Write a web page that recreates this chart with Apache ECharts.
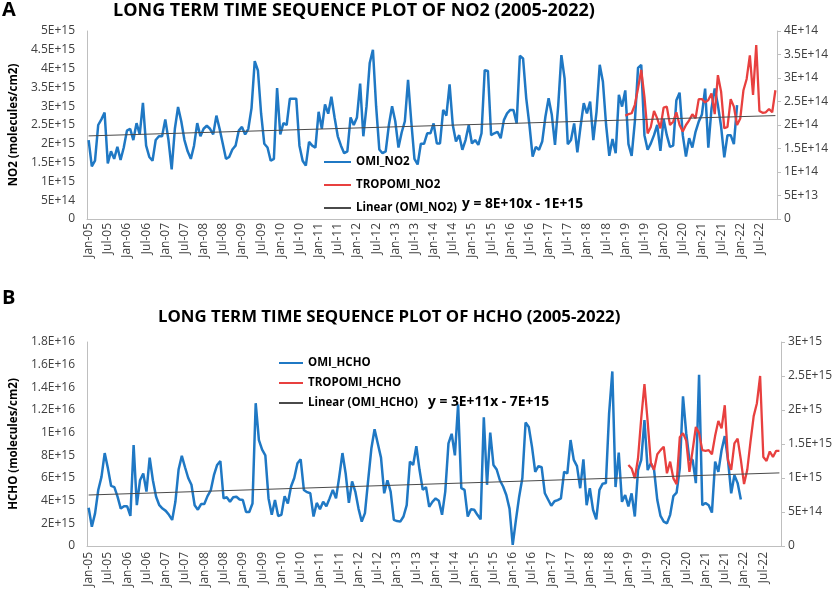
<!DOCTYPE html>
<html><head><meta charset="utf-8">
<script src="https://cdn.jsdelivr.net/npm/echarts/dist/echarts.min.js"></script>
<style>html,body{margin:0;padding:0;background:#fff}#c{width:837px;height:591px}</style>
</head><body><div id="c"></div><script>
// Categories: monthly, Jan-05 .. Dec-22
var monthNames = ['Jan','Feb','Mar','Apr','May','Jun','Jul','Aug','Sep','Oct','Nov','Dec'];
var years = ['05','06','07','08','09','10','11','12','13','14','15','16','17','18','19','20','21','22'];
var categories = [];
years.forEach(function(y){ monthNames.forEach(function(m){ categories.push(m + '-' + y); }); });

// Panel A: OMI NO2 (units of 1E+15 molecules/cm2), Jan-05 .. Dec-21
var omiNO2 = [
2.1,1.4,1.55,2.5,2.65,2.83,1.48,1.8,1.6,1.92,1.57,1.9,
2.35,2.4,2.1,2.55,2.25,3.09,1.95,1.65,1.55,2.1,2.2,2.2,
2.65,2.1,1.32,2.4,2.98,2.6,2.1,1.8,1.6,1.95,2.55,2.2,
2.4,2.48,2.4,2.25,2.75,2.4,2.0,1.6,1.65,1.85,1.95,2.35,
2.45,2.25,2.4,2.95,4.2,3.95,2.8,2.0,1.9,1.55,1.6,3.48,
2.25,2.55,2.5,3.2,3.2,3.2,1.95,1.55,1.42,2.05,1.95,1.9,
2.85,2.4,3.05,2.8,3.25,2.7,2.2,1.95,1.75,1.8,2.7,2.5,
2.7,3.6,2.2,3.0,4.15,4.5,3.0,1.85,1.75,1.8,2.5,3.0,
2.6,1.9,2.3,2.6,3.7,2.6,1.6,1.45,2.0,2.0,2.28,2.28,
2.54,2.01,2.01,2.9,2.75,3.58,2.5,2.06,2.23,1.84,2.1,2.5,
2.01,2.1,1.97,2.28,3.96,3.94,2.23,2.28,2.32,2.15,2.63,2.81,
2.9,2.9,2.54,4.34,4.27,3.21,2.5,1.66,1.92,1.84,2.06,2.72,
3.21,2.77,1.97,3.0,4.36,3.74,1.99,2.1,2.54,1.77,2.46,3.08,
2.81,3.12,2.1,2.85,4.1,3.65,2.5,1.68,2.13,1.75,3.3,2.99,
3.42,1.99,1.68,2.59,4.02,4.1,2.23,1.84,2.01,2.23,2.5,1.81,
2.66,2.23,1.92,1.95,3.16,3.36,2.23,1.66,2.15,1.9,2.32,2.59,
2.78,3.47,1.9,2.94,3.47,3.03,2.46,1.64,2.23,2.23,1.99,3.03
];
// TROPOMI NO2 (units of 1E+14), Jan-19 .. Dec-22
var tropomiNO2 = [
2.2,2.23,2.25,2.43,2.78,3.17,2.6,1.82,1.96,2.3,2.14,1.93,
2.37,2.39,2.0,2.07,2.27,2.0,1.86,2.0,2.1,2.23,2.14,2.55,
2.55,2.48,2.53,2.67,2.23,3.06,2.71,1.93,1.96,2.55,2.39,2.0,
2.14,2.74,2.98,3.48,2.64,3.7,2.3,2.26,2.27,2.34,2.27,2.74
];
var tropomiStart = 'Jan-19';
// Linear trend of OMI NO2 (1E+15), value at first and last category
var trendNO2 = [2.21, 2.75];

// Panel B: OMI HCHO (units of 1E+15), Jan-05 .. Dec-21
var omiHCHO = [
3.38,1.7,2.88,4.94,6.1,8.2,6.85,5.3,5.2,4.35,3.3,3.5,
3.5,2.65,8.9,3.6,5.8,6.4,4.8,7.8,5.8,4.35,3.6,3.3,
3.1,2.75,2.3,3.9,6.75,7.95,6.95,6.0,5.4,3.6,3.2,3.7,
3.7,4.4,4.9,6.25,7.15,7.5,4.2,4.3,3.9,4.3,4.35,4.1,
4.05,3.0,3.0,3.75,12.6,9.35,8.5,8.0,4.2,2.75,4.05,2.65,
2.75,4.4,3.75,5.25,6.0,7.3,7.65,4.94,4.75,4.65,2.6,3.8,
3.25,3.9,3.5,4.2,4.95,4.2,6.1,8.2,6.4,3.8,5.7,4.8,
3.3,2.15,2.9,5.8,8.6,10.3,9.05,7.8,4.65,5.8,4.8,2.3,
2.2,2.15,2.6,3.6,7.45,7.15,8.8,6.7,4.95,5.2,3.45,3.9,
4.2,4.0,2.75,4.8,9.05,9.9,8.0,12.5,5.1,4.95,2.6,3.25,
3.2,2.75,2.35,11.35,5.4,10.0,7.15,6.75,5.8,5.25,4.5,3.3,
0.1,2.3,4.35,6.0,10.9,10.5,8.75,6.55,7.05,6.95,4.65,4.1,
3.55,3.95,4.05,4.2,6.55,6.4,9.35,7.6,7.05,5.1,7.65,3.6,
5.1,3.2,2.35,4.95,5.5,5.55,11.7,15.4,5.2,8.25,3.9,4.5,
3.5,4.65,2.6,6.7,7.6,11.1,6.7,7.3,6.7,4.05,2.65,2.15,
2.0,2.75,4.4,4.7,6.85,13.2,9.95,7.6,7.6,5.55,15.1,3.6,
3.8,3.6,2.95,7.45,6.55,8.45,9.7,7.6,4.65,6.25,5.55,4.1
];
// TROPOMI HCHO (units of 1E+14), Jan-19 .. Dec-22
var tropomiHCHO = [
11.9,11.4,9.95,12.9,18.8,23.8,18.3,12.2,11.2,13.5,14.1,14.6,
10.7,12.4,9.95,9.1,16.0,16.6,15.5,10.9,14.1,17.5,16.6,14.1,
14.0,14.1,13.5,16.2,18.4,17.3,20.7,12.6,11.2,15.1,15.8,12.7,
9.1,11.2,15.3,19.1,21.0,25.0,13.1,12.5,13.9,13.1,14.0,14.0
];
var trendHCHO = [4.5, 6.45];

// Axis tick settings (value units as stored above)
var leftNO2Axis = {min:0, max:5, interval:0.5, unit:1e15};
var rightNO2Axis = {min:0, max:4, interval:0.5, unit:1e14};
var leftHCHOAxis = {min:0, max:18, interval:2, unit:1e15};
var rightHCHOAxis = {min:0, max:30, interval:5, unit:1e14};

function sci(v){
  if (Math.abs(v) < 1e-6) return '0';
  var e = Math.floor(Math.log10(v) + 1e-9);
  var m = Math.round(v / Math.pow(10, e) * 100) / 100;
  return m + 'E+' + e;
}
function pairsFrom(start, arr){
  var s = categories.indexOf(start);
  return arr.map(function(v, i){ return [categories[s + i], v]; });
}

var BLUE = '#1f78c4', RED = '#e8403f', TREND = '#4a4a4a';
var FONT = 'Open Sans';
var labelColor = '#404040';

function xAxis(gi, margin){
  return {type:'category', gridIndex:gi, data:categories, boundaryGap:true,
    axisLine:{lineStyle:{color:'#bfbfbf', width:1}}, axisTick:{show:false},
    axisLabel:{interval:5, rotate:90, fontSize:12, color:labelColor, fontFamily:FONT, margin:margin},
    splitLine:{show:false}};
}
function yAxis(gi, ax, pos, name, gap){
  var o = {type:'value', gridIndex:gi, position:pos, min:ax.min, max:ax.max, interval:ax.interval,
    splitLine:{show:false},
    axisLine:{show:true, lineStyle:{color:'#bfbfbf', width:1}},
    axisTick:{show: pos === 'right', length:4, lineStyle:{color:'#bfbfbf'}},
    axisLabel:{fontSize:12, color:labelColor, fontFamily:FONT, margin: pos === 'right' ? 7 : 12,
      formatter:function(v){ return sci(v * ax.unit); }}};
  if (name){
    o.name = name; o.nameLocation = 'middle'; o.nameGap = gap;
    o.nameTextStyle = {fontSize:11.5, fontWeight:'bold', color:'#000', fontFamily:FONT};
  }
  return o;
}
function lineSeries(name, xi, yi, data, color, width, z){
  return {name:name, type:'line', xAxisIndex:xi, yAxisIndex:yi, data:data, symbol:'none', showSymbol:false,
    lineStyle:{color:color, width:width}, itemStyle:{color:color}, z:z, animation:false};
}
function legend(left, top, gap, w, names){
  return {left:left, top:top, orient:'vertical', itemWidth:w, itemHeight:14, itemGap:gap, padding:0,
    selectedMode:false, itemStyle:{opacity:0}, data:names,
    textStyle:{fontSize:11.5, fontWeight:'bold', color:'#000', fontFamily:FONT}};
}

var chart = echarts.init(document.getElementById('c'), null, {renderer:'canvas'});
chart.setOption({
  backgroundColor:'#fff',
  animation:false,
  textStyle:{fontFamily:FONT},
  title:[
    {text:'A', left:2, top:0, padding:0, textStyle:{fontSize:20, fontWeight:'bold', color:'#000', fontFamily:FONT}},
    {text:'LONG TERM TIME SEQUENCE PLOT OF NO2 (2005-2022)', left:113, top:2, padding:0,
      textStyle:{fontSize:18, fontWeight:'bold', color:'#000', fontFamily:FONT}},
    {text:'B', left:2, top:288, padding:0, textStyle:{fontSize:20, fontWeight:'bold', color:'#000', fontFamily:FONT}},
    {text:'LONG TERM TIME SEQUENCE PLOT OF HCHO (2005-2022)', left:158, top:309, padding:0,
      textStyle:{fontSize:16.8, fontWeight:'bold', color:'#000', fontFamily:FONT}},
    {text:'y = 8E+10x - 1E+15', left:462, top:197, padding:0,
      textStyle:{fontSize:13.8, fontWeight:'bold', color:'#000', fontFamily:FONT}},
    {text:'y = 3E+11x - 7E+15', left:428, top:395, padding:0,
      textStyle:{fontSize:13.8, fontWeight:'bold', color:'#000', fontFamily:FONT}}
  ],
  legend:[
    legend(323, 156, 11, 27, ['OMI_NO2','TROPOMI_NO2','Linear (OMI_NO2)']),
    legend(278, 357, 8, 24, ['OMI_HCHO','TROPOMI_HCHO','Linear (OMI_HCHO)'])
  ],
  grid:[
    {left:77, top:31, width:700, height:188},
    {left:75, top:342, width:706, height:204}
  ],
  xAxis:[xAxis(0, 4), xAxis(1, 6)],
  yAxis:[
    yAxis(0, leftNO2Axis, 'left', 'NO2 (molecules/cm2)', 61),
    yAxis(0, rightNO2Axis, 'right'),
    yAxis(1, leftHCHOAxis, 'left', 'HCHO (molecules/cm2)', 59),
    yAxis(1, rightHCHOAxis, 'right')
  ],
  series:[
    lineSeries('OMI_NO2', 0, 0, omiNO2, BLUE, 2.5, 2),
    lineSeries('TROPOMI_NO2', 0, 1, pairsFrom(tropomiStart, tropomiNO2), RED, 2.3, 3),
    lineSeries('Linear (OMI_NO2)', 0, 0, [[categories[0], trendNO2[0]], [categories[categories.length-1], trendNO2[1]]], TREND, 1, 4),
    lineSeries('OMI_HCHO', 1, 2, omiHCHO, BLUE, 2.5, 2),
    lineSeries('TROPOMI_HCHO', 1, 3, pairsFrom(tropomiStart, tropomiHCHO), RED, 2.3, 3),
    lineSeries('Linear (OMI_HCHO)', 1, 2, [[categories[0], trendHCHO[0]], [categories[categories.length-1], trendHCHO[1]]], TREND, 1, 4)
  ]
});
</script></body></html>
